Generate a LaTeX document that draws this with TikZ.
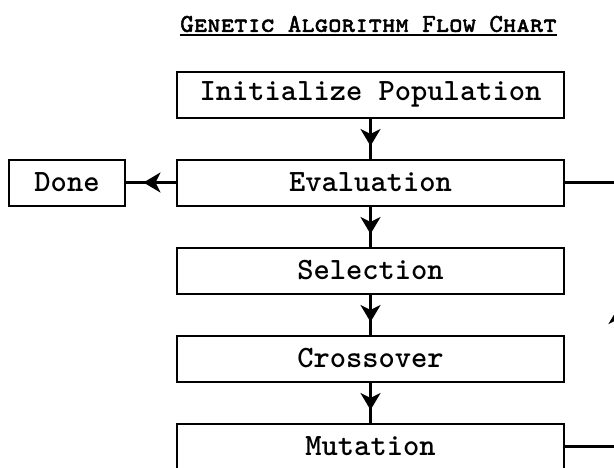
\documentclass[tikz,border=0pt]{standalone}
\usepackage{fontspec}
\usepackage{tikz}
\usetikzlibrary{arrows.meta,positioning,decorations.markings}
\newfontfamily\titlefont{lmmonocaps10-regular.otf}[AutoFakeBold=2]

\begin{document}
\begin{tikzpicture}[x=0.5pt,y=0.5pt,>={Stealth[length=8.5pt,width=10pt,inset=2.5pt]},
    node distance=44pt,
    block/.style={draw, line width=1pt, minimum width=193.5pt, minimum height=23pt,
                  inner sep=0pt, font=\fontsize{15.5}{18}\selectfont\ttfamily\bfseries},
    flow/.style={line width=1.5pt, postaction={decorate},
                 decoration={markings, mark=at position 0.5 with {\pgftransformxshift{3.75pt}\arrow{>}}}}]
  \useasboundingbox (0,0) rectangle (614,467);

  \node[block]           (init)  at (370.5,372.5) {Initialize Population};
  \node[block]           (eval)  [below of=init]  {Evaluation};
  \node[block]           (sel)   [below of=eval]  {Selection};
  \node[block]           (cross) [below of=sel]   {Crossover};
  \node[block]           (mut)   [below of=cross] {Mutation};
  \node[block, minimum width=58pt] (done) [left=25pt of eval] {Done};
  \node[inner sep=0pt, font=\fontsize{12.8}{15}\selectfont\titlefont\bfseries]
                         (title) [above=19pt of init, xshift=-1pt] {Genetic Algorithm Flow Chart};
  \draw[line width=1pt] ([yshift=-1.5pt]title.south west) -- ([yshift=-1.5pt]title.south east);

  \coordinate (ltop) at ([xshift=26.75pt]eval.east);
  \coordinate (lbot) at ([xshift=26.75pt]mut.east);

  \draw[flow] (init) -- (eval);
  \draw[flow] (eval) -- (sel);
  \draw[flow] (sel)  -- (cross);
  \draw[flow] (cross) -- (mut);
  \draw[flow] (eval) -- (done);
  \draw[flow] (mut.east) -- (lbot) -- (ltop) -- (eval.east);
\end{tikzpicture}
\end{document}
